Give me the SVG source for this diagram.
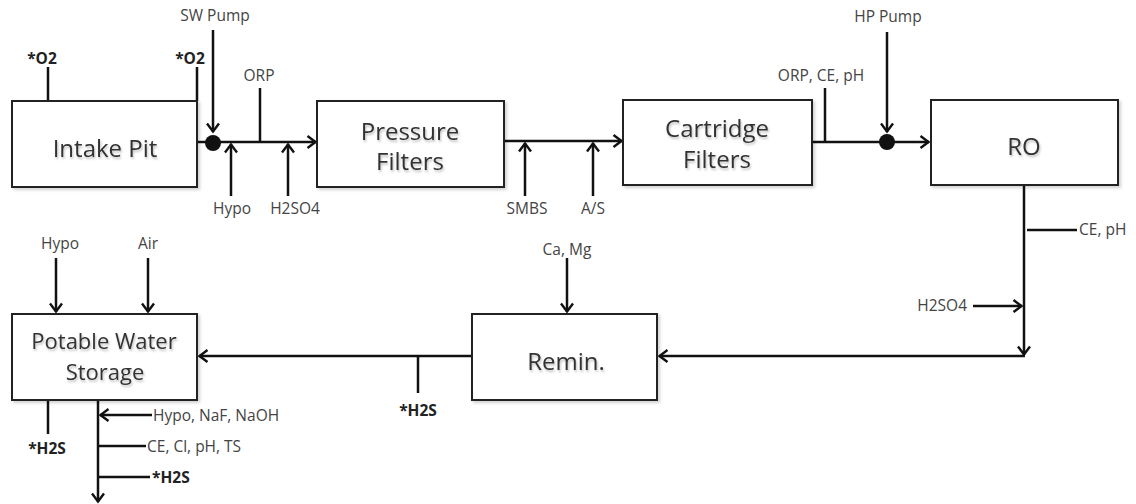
<svg xmlns="http://www.w3.org/2000/svg" width="1136" height="504" viewBox="0 0 1136 504">
  <style>
    .box { fill: #ffffff; stroke: #222; stroke-width: 2; filter: url(#sh); }
    .big { font-family: "Open Sans", "Liberation Sans", sans-serif; font-size: 24px; fill: #333; text-anchor: middle; filter: url(#tsh); }
    .lbl { font-family: "Open Sans", "Liberation Sans", sans-serif; font-size: 15.5px; fill: #444; }
    .bold { font-weight: bold; fill: #222; }
    .mid { text-anchor: middle; }
    .end { text-anchor: end; }
    .ln { fill: none; stroke: #111; stroke-width: 2.5; }
    .arr { fill: none; stroke: #111; stroke-width: 2.5; marker-end: url(#ah); }
  </style>
  <defs>
    <marker id="ah" viewBox="0 0 12 14" refX="10.5" refY="7" markerWidth="12" markerHeight="14" markerUnits="userSpaceOnUse" orient="auto">
      <path d="M2,1 L10,7 L2,13" fill="none" stroke="#111" stroke-width="2.4"/>
    </marker>
    <filter id="sh" x="-5%" y="-5%" width="115%" height="120%">
      <feDropShadow dx="2" dy="2" stdDeviation="1.5" flood-color="#000" flood-opacity="0.18"/>
    </filter>
    <filter id="tsh" x="-10%" y="-20%" width="120%" height="160%">
      <feDropShadow dx="1" dy="2" stdDeviation="1.2" flood-color="#000" flood-opacity="0.25"/>
    </filter>
  </defs>
  <rect width="1136" height="504" fill="#ffffff"/>

  <g id="connectors">
    <!-- Intake -> Pressure Filters -->
    <line class="ln" x1="197" y1="142" x2="210" y2="142"/>
    <line class="arr" x1="213" y1="142" x2="316" y2="142"/>
    <circle cx="213" cy="143" r="8" fill="#111"/>
    <line class="arr" x1="213" y1="30" x2="213" y2="132"/>
    <line class="ln" x1="260" y1="88" x2="260" y2="142"/>
    <line class="arr" x1="231" y1="196" x2="231" y2="144"/>
    <line class="arr" x1="288" y1="196" x2="288" y2="144"/>
    <!-- O2 taps -->
    <line class="ln" x1="48" y1="67" x2="48" y2="101"/>
    <line class="ln" x1="197" y1="67" x2="197" y2="101"/>
    <!-- Pressure -> Cartridge -->
    <line class="arr" x1="504" y1="141" x2="622" y2="141"/>
    <line class="arr" x1="525" y1="196" x2="525" y2="143"/>
    <line class="arr" x1="593" y1="196" x2="593" y2="143"/>
    <!-- Cartridge -> RO -->
    <line class="arr" x1="812" y1="142" x2="929" y2="142"/>
    <line class="ln" x1="825" y1="88" x2="825" y2="142"/>
    <circle cx="887" cy="142" r="8" fill="#111"/>
    <line class="arr" x1="887" y1="32" x2="887" y2="132"/>
    <!-- RO -> Remin -->
    <line class="arr" x1="1024" y1="185" x2="1024" y2="355"/>
    <line class="ln" x1="1027" y1="230" x2="1077" y2="230"/>
    <line class="arr" x1="973" y1="306" x2="1022" y2="306"/>
    <line class="arr" x1="1025" y1="356" x2="659" y2="356"/>
    <line class="arr" x1="567" y1="258" x2="567" y2="312"/>
    <!-- Remin -> Potable -->
    <line class="arr" x1="472" y1="356" x2="199" y2="356"/>
    <line class="ln" x1="418" y1="356" x2="418" y2="393"/>
    <line class="arr" x1="56" y1="258" x2="56" y2="312"/>
    <line class="arr" x1="148" y1="258" x2="148" y2="312"/>
    <!-- Potable outputs -->
    <line class="ln" x1="48" y1="400" x2="48" y2="434"/>
    <line class="arr" x1="98" y1="400" x2="98" y2="502"/>
    <line class="arr" x1="152" y1="415" x2="100" y2="415"/>
    <line class="ln" x1="99" y1="446" x2="146" y2="446"/>
    <line class="ln" x1="99" y1="477" x2="150" y2="477"/>
  </g>

  <g id="intake-pit">
    <rect class="box" x="12" y="101" width="185" height="86"/>
    <text class="big" x="105" y="157">Intake Pit</text>
  </g>
  <g id="pressure-filters">
    <rect class="box" x="317" y="101" width="187" height="86"/>
    <text class="big" x="410" y="140">Pressure</text>
    <text class="big" x="410" y="170">Filters</text>
  </g>
  <g id="cartridge-filters">
    <rect class="box" x="623" y="100" width="189" height="85"/>
    <text class="big" x="717" y="137">Cartridge</text>
    <text class="big" x="717" y="168">Filters</text>
  </g>
  <g id="ro">
    <rect class="box" x="931" y="100" width="187" height="85"/>
    <text class="big" x="1024" y="155">RO</text>
  </g>
  <g id="remin">
    <rect class="box" x="472" y="314" width="185" height="86"/>
    <text class="big" x="566" y="370">Remin.</text>
  </g>
  <g id="potable-water-storage">
    <rect class="box" x="12" y="314" width="185" height="86"/>
    <text class="big" x="104" y="349" style="font-size:22px">Potable Water</text>
    <text class="big" x="105" y="380" style="font-size:22px">Storage</text>
  </g>

  <g id="labels">
    <text class="lbl bold mid" x="42" y="64">*O2</text>
    <text class="lbl bold mid" x="190" y="64">*O2</text>
    <text class="lbl mid" x="215" y="21">SW Pump</text>
    <text class="lbl mid" x="259" y="81">ORP</text>
    <text class="lbl mid" x="232" y="214">Hypo</text>
    <text class="lbl mid" x="295" y="214">H2SO4</text>
    <text class="lbl mid" x="527" y="214">SMBS</text>
    <text class="lbl mid" x="593" y="214">A/S</text>
    <text class="lbl mid" x="821" y="81">ORP, CE, pH</text>
    <text class="lbl mid" x="888" y="22">HP Pump</text>
    <text class="lbl" x="1079" y="235">CE, pH</text>
    <text class="lbl end" x="967" y="311">H2SO4</text>
    <text class="lbl mid" x="567" y="255">Ca, Mg</text>
    <text class="lbl mid" x="60" y="249">Hypo</text>
    <text class="lbl mid" x="148" y="249">Air</text>
    <text class="lbl bold mid" x="418" y="416">*H2S</text>
    <text class="lbl bold mid" x="47" y="454">*H2S</text>
    <text class="lbl" x="153" y="421">Hypo, NaF, NaOH</text>
    <text class="lbl" x="147" y="452">CE, Cl, pH, TS</text>
    <text class="lbl bold" x="152" y="483">*H2S</text>
  </g>
</svg>
